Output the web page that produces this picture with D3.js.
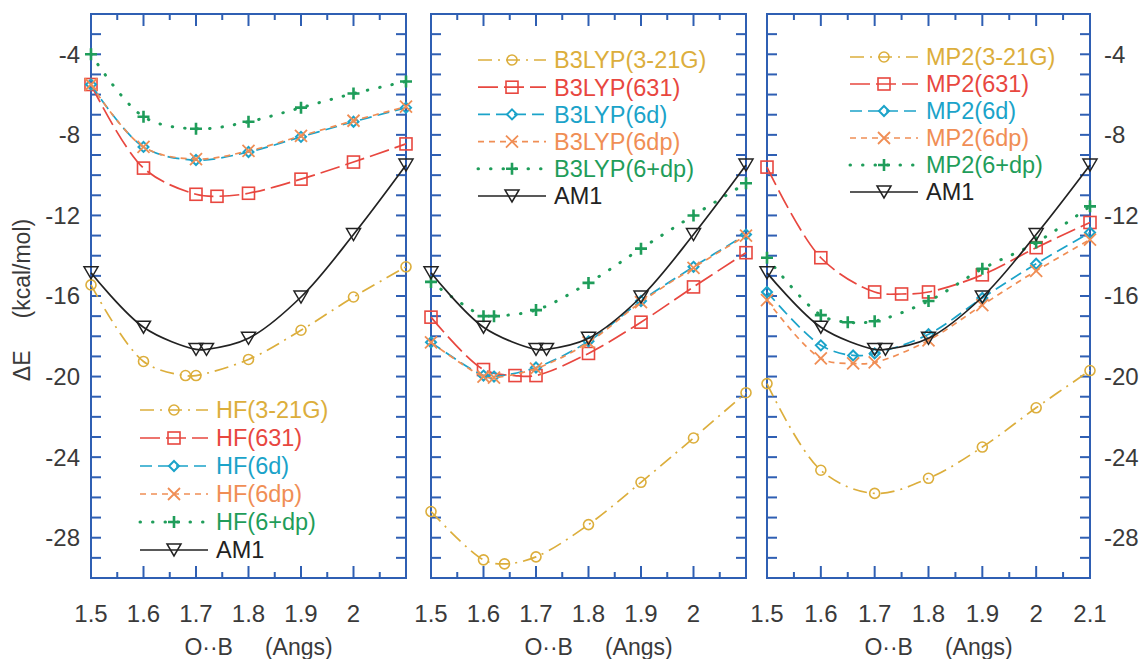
<!DOCTYPE html>
<html>
<head>
<meta charset="utf-8">
<script src="https://cdn.jsdelivr.net/npm/d3@7"></script>
<style>
  body { margin: 0; background: #fff; }
  svg { display: block; font-family: "Liberation Sans", Arial, sans-serif; }
  .tick-label { fill: #3a3a3a; font-size: 24px; }
  .title { fill: #3a3a3a; font-size: 23px; white-space: pre; }
  .frame { fill: none; stroke: #2f5fb3; stroke-width: 2; }
  .tk { stroke: #2f5fb3; stroke-width: 2; }
</style>
</head>
<body>
<svg id="chart" width="1143" height="659"></svg>
<script>
// AM1 reference curve, same in every panel
var am1 = [[1.5, -14.85], [1.6, -17.55], [1.7, -18.65], [1.72, -18.65], [1.8, -18.1], [1.9, -16.05], [2.0, -12.95], [2.1, -9.5]];

// HF
var hf321 = [[1.5, -15.45], [1.6, -19.25], [1.68, -19.95], [1.7, -19.95], [1.8, -19.15], [1.9, -17.7], [2.0, -16.05], [2.1, -14.55]];
var hf631 = [[1.5, -5.5], [1.6, -9.65], [1.7, -10.95], [1.74, -11.05], [1.8, -10.9], [1.9, -10.2], [2.0, -9.35], [2.1, -8.45]];
var hf6d = [[1.5, -5.5], [1.6, -8.6], [1.7, -9.25], [1.8, -8.85], [1.9, -8.1], [2.0, -7.35], [2.1, -6.65]];
var hf6dp = [[1.5, -5.5], [1.6, -8.6], [1.7, -9.2], [1.8, -8.8], [1.9, -8.05], [2.0, -7.3], [2.1, -6.6]];
var hf6pdp = [[1.5, -4.0], [1.6, -7.1], [1.7, -7.7], [1.8, -7.35], [1.9, -6.65], [2.0, -5.95], [2.1, -5.35]];

// B3LYP
var b3321 = [[1.5, -26.7], [1.6, -29.1], [1.64, -29.3], [1.7, -28.95], [1.8, -27.35], [1.9, -25.25], [2.0, -23.05], [2.1, -20.8]];
var b3631 = [[1.5, -17.05], [1.6, -19.65], [1.66, -19.95], [1.7, -19.95], [1.8, -18.85], [1.9, -17.3], [2.0, -15.55], [2.1, -13.85]];
var b36d = [[1.5, -18.3], [1.6, -19.95], [1.62, -20.0], [1.7, -19.55], [1.8, -18.25], [1.9, -16.25], [2.0, -14.55], [2.1, -12.95]];
var b36dp = [[1.5, -18.3], [1.6, -20.0], [1.62, -20.05], [1.7, -19.6], [1.8, -18.3], [1.9, -16.3], [2.0, -14.6], [2.1, -13.0]];
var b36pdp = [[1.5, -15.3], [1.6, -17.0], [1.62, -17.0], [1.7, -16.7], [1.8, -15.35], [1.9, -13.65], [2.0, -12.0], [2.1, -10.4]];

// MP2
var mp321 = [[1.5, -20.35], [1.6, -24.65], [1.7, -25.8], [1.8, -25.05], [1.9, -23.5], [2.0, -21.55], [2.1, -19.7]];
var mp631 = [[1.5, -9.6], [1.6, -14.1], [1.7, -15.8], [1.75, -15.9], [1.8, -15.8], [1.9, -14.95], [2.0, -13.6], [2.1, -12.35]];
var mp6d = [[1.5, -15.8], [1.6, -18.45], [1.66, -18.95], [1.7, -18.85], [1.8, -17.9], [1.9, -16.1], [2.0, -14.4], [2.1, -12.85]];
var mp6dp = [[1.5, -16.2], [1.6, -19.1], [1.66, -19.35], [1.7, -19.3], [1.8, -18.2], [1.9, -16.45], [2.0, -14.75], [2.1, -13.2]];
var mp6pdp = [[1.5, -14.1], [1.6, -16.95], [1.65, -17.3], [1.7, -17.25], [1.8, -16.25], [1.9, -14.65], [2.0, -13.35], [2.1, -11.55]];

var basisNames = ['(3-21G)', '(631)', '(6d)', '(6dp)', '(6+dp)'];
var xTicks = [1.5, 1.6, 1.7, 1.8, 1.9, 2.0, 2.1];
var yTicks = [-4, -8, -12, -16, -20, -24, -28];

// line + marker styles, one per basis set, then AM1
var styles = [
  {color: '#dcae3c', dash: '14,6,2,6', marker: 'circle'},
  {color: '#e8473f', dash: '20,6', marker: 'square'},
  {color: '#1ba3c9', dash: '12,6', marker: 'diamond'},
  {color: '#f08e55', dash: '6,5', marker: 'cross'},
  {color: '#1f9d5a', dash: '0.5,12', marker: 'plus'},
  {color: '#222222', dash: null, marker: 'triangle'}
];

var panels = [
  {method: 'HF', series: [hf321, hf631, hf6d, hf6dp, hf6pdp], left: 91, right: 406,
    labels: 'left', lastLabel: false, legend: {x: 140, y: 410, dy: 28}},
  {method: 'B3LYP', series: [b3321, b3631, b36d, b36dp, b36pdp], left: 431, right: 746,
    labels: 'none', lastLabel: false, legend: {x: 478, y: 60, dy: 27.2}},
  {method: 'MP2', series: [mp321, mp631, mp6d, mp6dp, mp6pdp], left: 767, right: 1090,
    labels: 'right', lastLabel: true, legend: {x: 850, y: 57, dy: 27}}
];

var plotTop = 14, plotBottom = 578;
var svg = d3.select('#chart');

var drawMarker = function (g, type, color) {
  if (type === 'circle') {
    g.append('circle').attr('r', 5).attr('fill', 'none').attr('stroke', color).attr('stroke-width', 1.6);
  } else if (type === 'square') {
    g.append('rect').attr('x', -6).attr('y', -6).attr('width', 12).attr('height', 12)
      .attr('fill', 'none').attr('stroke', color).attr('stroke-width', 1.6);
  } else if (type === 'diamond') {
    g.append('path').attr('d', 'M0,-5L5,0L0,5L-5,0Z')
      .attr('fill', 'none').attr('stroke', color).attr('stroke-width', 2);
  } else if (type === 'cross') {
    g.append('path').attr('d', 'M-6,-6L6,6M-6,6L6,-6')
      .attr('stroke', color).attr('stroke-width', 1.8);
  } else if (type === 'plus') {
    g.append('path').attr('d', 'M-6,0L6,0M0,-6L0,6')
      .attr('stroke', color).attr('stroke-width', 2.6);
  } else {
    g.append('path').attr('d', 'M-7,-6L7,-6L0,6Z')
      .attr('fill', 'none').attr('stroke', color).attr('stroke-width', 1.5);
  }
};

var lineWidth = function (i) { return i === 4 ? 3 : 1.7; };

panels.forEach(function (p) {
  var x = d3.scaleLinear().domain([1.5, 2.1]).range([p.left, p.right]);
  var y = d3.scaleLinear().domain([-2, -30]).range([plotTop, plotBottom]);
  var g = svg.append('g');

  // ticks on all four sides, pointing in
  var yMinor = d3.range(-3, -30, -1);
  var xMinor = d3.range(1.55, 2.1, 0.1);
  var ticks = g.append('g');
  yMinor.forEach(function (v) {
    ticks.append('line').attr('class', 'tk').attr('x1', p.left).attr('x2', p.left + 10).attr('y1', y(v)).attr('y2', y(v));
    ticks.append('line').attr('class', 'tk').attr('x1', p.right).attr('x2', p.right - 10).attr('y1', y(v)).attr('y2', y(v));
  });
  xTicks.slice(1, -1).forEach(function (v) {
    ticks.append('line').attr('class', 'tk').attr('x1', x(v)).attr('x2', x(v)).attr('y1', plotBottom).attr('y2', plotBottom - 12);
    ticks.append('line').attr('class', 'tk').attr('x1', x(v)).attr('x2', x(v)).attr('y1', plotTop).attr('y2', plotTop + 12);
  });
  xMinor.forEach(function (v) {
    ticks.append('line').attr('class', 'tk').attr('x1', x(v)).attr('x2', x(v)).attr('y1', plotBottom).attr('y2', plotBottom - 6);
    ticks.append('line').attr('class', 'tk').attr('x1', x(v)).attr('x2', x(v)).attr('y1', plotTop).attr('y2', plotTop + 6);
  });
  g.append('rect').attr('class', 'frame')
    .attr('x', p.left).attr('y', plotTop).attr('width', p.right - p.left).attr('height', plotBottom - plotTop);

  // x labels
  g.selectAll('.xl').data(p.lastLabel ? xTicks : xTicks.slice(0, -1)).enter()
    .append('text').attr('class', 'tick-label')
    .attr('x', function (d) { return x(d); }).attr('y', 622)
    .attr('text-anchor', 'middle')
    .text(function (d) { return d3.format('~g')(d); });

  g.append('text').attr('class', 'title')
    .attr('x', (p.left + p.right) / 2 + 10).attr('y', 655)
    .attr('text-anchor', 'middle')
    .text('O\u00b7\u00b7B     (Angs)');

  if (p.labels !== 'none') {
    g.selectAll('.yl').data(yTicks).enter()
      .append('text').attr('class', 'tick-label')
      .attr('x', p.labels === 'left' ? p.left - 11 : p.right + 14)
      .attr('y', function (d) { return y(d); })
      .attr('dy', '0.35em')
      .attr('text-anchor', p.labels === 'left' ? 'end' : 'start')
      .text(function (d) { return d; });
  }

  var line = d3.line()
    .x(function (d) { return x(d[0]); })
    .y(function (d) { return y(d[1]); })
    .curve(d3.curveCatmullRom.alpha(0.5));

  var all = p.series.concat([am1]);
  all.forEach(function (data, i) {
    var st = styles[i];
    g.append('path').datum(data)
      .attr('d', line)
      .attr('fill', 'none')
      .attr('stroke', st.color)
      .attr('stroke-width', lineWidth(i))
      .attr('stroke-linecap', i === 4 ? 'round' : 'butt')
      .attr('stroke-dasharray', st.dash);
    g.selectAll(null).data(data).enter()
      .append('g')
      .attr('transform', function (d) { return 'translate(' + x(d[0]) + ',' + y(d[1]) + ')'; })
      .each(function () { drawMarker(d3.select(this), st.marker, st.color); });
  });

  // legend
  var leg = g.append('g');
  all.forEach(function (data, i) {
    var st = styles[i];
    var ly = p.legend.y + i * p.legend.dy;
    leg.append('line')
      .attr('x1', p.legend.x).attr('x2', p.legend.x + 68)
      .attr('y1', ly).attr('y2', ly)
      .attr('stroke', st.color)
      .attr('stroke-width', lineWidth(i))
      .attr('stroke-linecap', i === 4 ? 'round' : 'butt')
      .attr('stroke-dasharray', st.dash);
    drawMarker(leg.append('g').attr('transform', 'translate(' + (p.legend.x + 34) + ',' + ly + ')'), st.marker, st.color);
    leg.append('text')
      .attr('x', p.legend.x + 76).attr('y', ly).attr('dy', '0.36em')
      .attr('fill', st.color)
      .style('font-size', '23.5px')
      .text(i < 5 ? p.method + basisNames[i] : 'AM1');
  });
});

// y axis title
svg.append('text').attr('class', 'title')
  .attr('transform', 'translate(30,300) rotate(-90)')
  .attr('text-anchor', 'middle')
  .text('\u0394E     (kcal/mol)');
</script>
</body>
</html>
